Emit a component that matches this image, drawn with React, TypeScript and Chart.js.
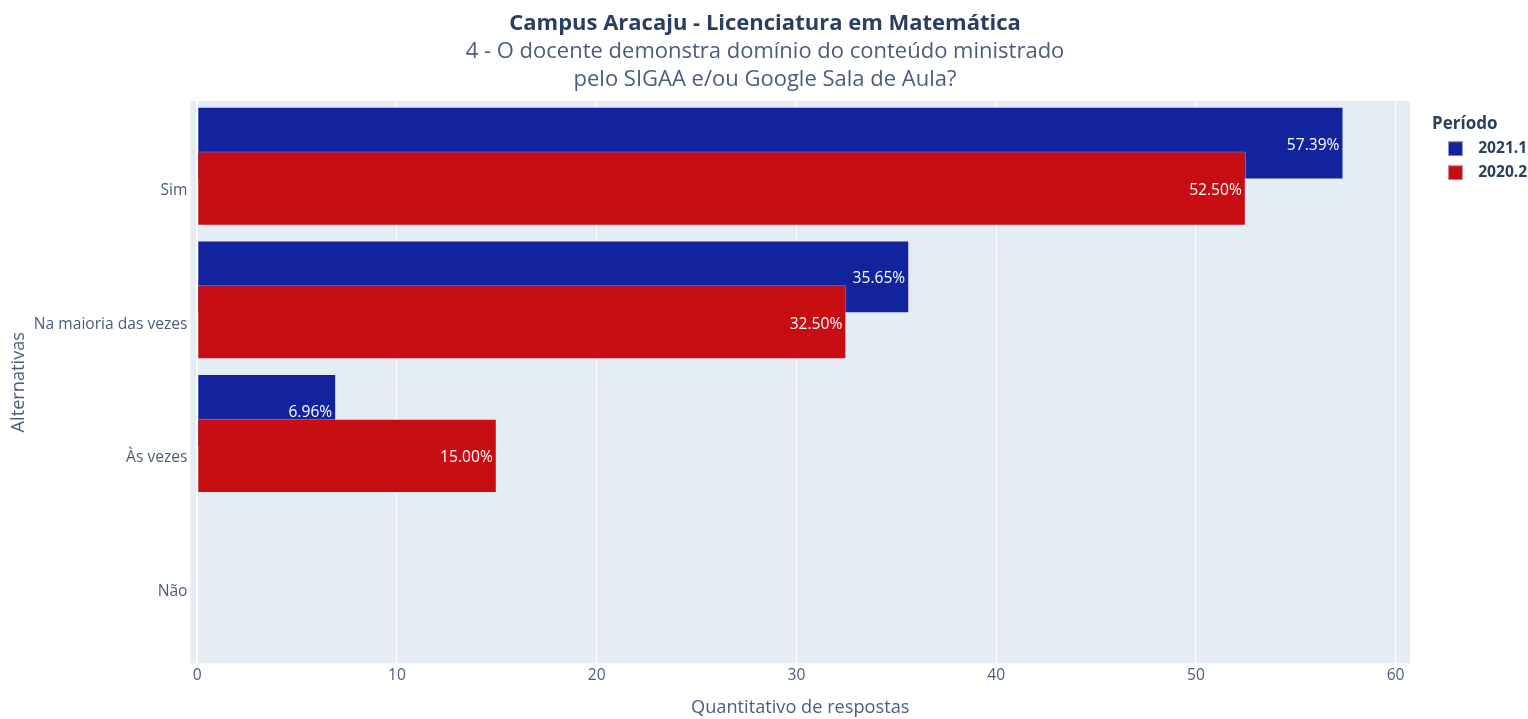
import React, { useEffect, useRef } from "react";
import { Chart, registerables } from "chart.js";

Chart.register(...registerables);

const categories = ["Sim", "Na maioria das vezes", "Às vezes", "Não"];
const series2021_1 = [57.39, 35.65, 6.96, 0];
const series2020_2 = [52.5, 32.5, 15.0, 0];
const seriesNames = ["2021.1", "2020.2"];
const seriesColors = ["#12239E", "#C70C12"];

const FONT = "'Open Sans', verdana, arial, sans-serif";
const TEXT = "#2a3f5f";
const SUB = "#4b5d7d";
const AXIS = "#4a5d7e";

function swatch(color: string) {
  const c = document.createElement("canvas");
  c.width = 15;
  c.height = 15;
  const g = c.getContext("2d")!;
  g.fillStyle = color;
  g.fillRect(0, 0, 15, 15);
  g.strokeStyle = "rgba(229,236,246,0.6)";
  g.lineWidth = 1;
  g.strokeRect(0.5, 0.5, 14, 14);
  return c;
}

const plotBg = {
  id: "plotBg",
  beforeDraw(chart: any) {
    const { ctx, chartArea } = chart;
    ctx.save();
    ctx.fillStyle = "#E5ECF6";
    ctx.fillRect(chartArea.left, chartArea.top, chartArea.right - chartArea.left, chartArea.bottom - chartArea.top);
    ctx.restore();
  },
};

const barLabels = {
  id: "barLabels",
  afterDatasetsDraw(chart: any) {
    const { ctx } = chart;
    ctx.save();
    ctx.font = `15.6px ${FONT}`;
    ctx.fillStyle = "#ffffff";
    ctx.textAlign = "right";
    ctx.textBaseline = "middle";
    chart.data.datasets.forEach((ds: any, di: number) => {
      const meta = chart.getDatasetMeta(di);
      meta.data.forEach((el: any, i: number) => {
        const v = ds.data[i].x;
        if (!v) return;
        ctx.fillText(`${v.toFixed(2)}%`, el.x - 4, el.y + 2);
      });
    });
    ctx.restore();
  },
};

export default function App() {
  const ref = useRef<HTMLCanvasElement>(null);
  useEffect(() => {
    const swatches = seriesColors.map(swatch);
    const chart = new Chart(ref.current!, {
      type: "bar",
      data: {
        datasets: [
          {
            label: seriesNames[0],
            data: categories.map((c, i) => ({ x: series2021_1[i], y: i })),
            backgroundColor: seriesColors[0],
            borderColor: "rgba(229,236,246,0.55)",
            borderWidth: 1,
            yAxisID: "yb",
            order: 1,
            grouped: false,
            categoryPercentage: 1,
            barPercentage: 0.545,
          },
          {
            label: seriesNames[1],
            data: categories.map((c, i) => ({ x: series2020_2[i], y: i })),
            backgroundColor: seriesColors[1],
            borderColor: "rgba(229,236,246,0.55)",
            borderWidth: 1,
            yAxisID: "y",
            order: 0,
            grouped: false,
            categoryPercentage: 1,
            barPercentage: 0.555,
          },
        ],
      },
      options: {
        indexAxis: "y",
        animation: false,
        responsive: false,
        devicePixelRatio: 1,
        layout: { padding: { left: 2, right: 0, top: 0, bottom: 0 } },
        scales: {
          x: {
            type: "linear",
            min: -0.335,
            max: 60.72,
            grid: {
              color: "#ffffff",
              lineWidth: (c: any) => (c.tick && c.tick.value === 0 ? 2 : 1),
              drawTicks: false,
            },
            border: { display: false },
            ticks: {
              stepSize: 10,
              includeBounds: false,
              padding: 3,
              color: AXIS,
              font: { family: FONT, size: 15.6 },
            },
            title: {
              display: true,
              text: "Quantitativo de respostas",
              color: AXIS,
              font: { family: FONT, size: 18.2 },
              padding: { top: 9, bottom: 0 },
            },
          },
          y: {
            type: "linear",
            reverse: true,
            offset: false,
            min: -0.655,
            max: 3.552,
            grid: { display: false, drawTicks: false, offset: false },
            border: { display: false },
            ticks: {
              stepSize: 1,
              includeBounds: false,
              padding: 3,
              labelOffset: 2,
              color: AXIS,
              font: { family: FONT, size: 15.6 },
              callback: (v: any) => categories[v] ?? "",
            },
            title: {
              display: true,
              text: "Alternativas",
              color: AXIS,
              font: { family: FONT, size: 18.2 },
              padding: { top: 6, bottom: 1 },
            },
          },
          yb: {
            type: "linear",
            position: "right",
            reverse: true,
            offset: false,
            min: -0.655 + 0.3396,
            max: 3.552 + 0.3396,
            grid: { display: false, drawTicks: false, offset: false },
            border: { display: false },
            ticks: { display: false, stepSize: 1, includeBounds: false },
            afterFit: (s: any) => {
              s.width = 22;
            },
          },
        },
        plugins: {
          title: {
            display: true,
            text: "Campus Aracaju - Licenciatura em Matemática",
            color: TEXT,
            font: { family: FONT, size: 22, weight: "bold", lineHeight: 1.2 },
            padding: { top: 10.8, bottom: 0.8 },
          },
          subtitle: {
            display: true,
            text: ["4 - O docente demonstra domínio do conteúdo ministrado", "pelo SIGAA e/ou Google Sala de Aula?"],
            color: SUB,
            font: { family: FONT, size: 22, lineHeight: 28 / 22 },
            padding: { top: 0, bottom: 7 },
          },
          legend: {
            display: true,
            position: "right",
            align: "start",
            fullSize: false,
            maxWidth: 96,
            title: {
              display: true,
              text: "Período",
              position: "start",
              color: TEXT,
              font: { family: FONT, size: 17, weight: "bold", lineHeight: 1 },
              padding: { top: 14.5, bottom: 0 },
            },
            labels: {
              usePointStyle: true,
              pointStyleWidth: 30,
              padding: 8.4,
              color: TEXT,
              font: { family: FONT, size: 15.6, weight: "bold" },
              sort: (a: any, b: any) => a.datasetIndex - b.datasetIndex,
              generateLabels: (ch: any) =>
                (Chart.defaults.plugins.legend.labels as any)
                  .generateLabels(ch)
                  .map((l: any) => ({ ...l, pointStyle: swatches[l.datasetIndex] })),
            },
          },
          tooltip: { enabled: false },
        },
      } as any,
      plugins: [plotBg, barLabels],
    });
    return () => chart.destroy();
  }, []);
  return (
    <div style={{ position: "fixed", left: 0, top: 0, width: 1528, height: 719, background: "#fff" }}>
      <canvas ref={ref} width={1528} height={719} style={{ display: "block" }} />
    </div>
  );
}
